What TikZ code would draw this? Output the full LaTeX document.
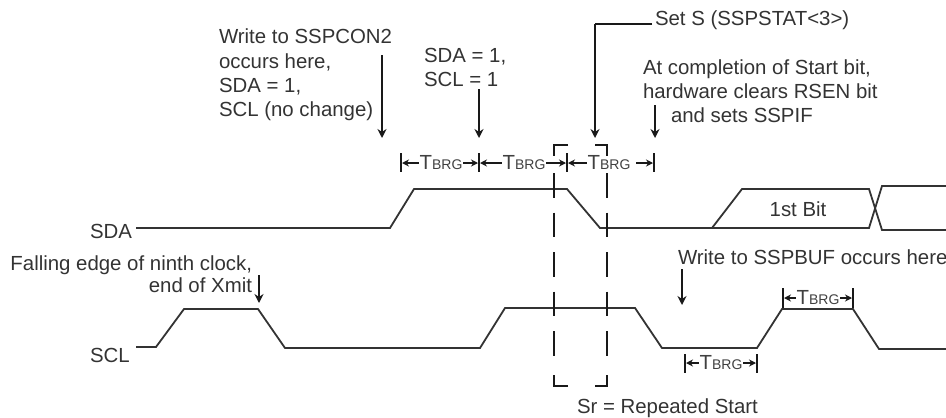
\documentclass[tikz,border=0pt]{standalone}
\usepackage{fontspec}
\setmainfont{Liberation Sans}
\usetikzlibrary{arrows.meta}
\newcommand{\tbrg}{T{\fontsize{14}{14}\selectfont BRG}}
\tikzset{
  wave/.style={line width=1.8pt,draw=black!80,line join=miter},
  lbl/.style={font=\fontsize{20.4}{24.3}\selectfont,text=black!80,inner sep=0pt,outer sep=0pt,align=left},
  callout/.style={line width=1.8pt,draw=black!90,-{Stealth[length=9pt,width=9pt]}},
  lead/.style={line width=1.8pt,draw=black!90},
  tick/.style={line width=1.7pt,draw=black!90},
  dim/.style={line width=1.5pt,draw=black!90,-{Stealth[length=7pt,width=7pt]}},
  tb/.style={font=\fontsize{20.4}{20}\selectfont,text=black!75,inner sep=1pt,outer sep=0pt,anchor=center},
  brk/.style={line width=1.8pt,draw=black!90},
  brkd/.style={line width=1.8pt,draw=black!90,dash pattern=on 24.5pt off 15pt}
}
\begin{document}
\begin{tikzpicture}[x=1pt,y=-1pt]
\useasboundingbox (0,0) rectangle (946,418);
% labels
\node[lbl,anchor=north west] (wssp) at (219,29) {Write to SSPCON2\\occurs here,\\SDA = 1,\\SCL (no change)};
\node[lbl,anchor=north west] (sda1) at (424,48) {SDA = 1,\\SCL = 1};
\node[lbl,anchor=base west] (sets) at (655,25) {Set S (SSPSTAT<3>)};
\node[lbl,anchor=base west] (ac1) at (643,74) {At completion of Start bit,};
\node[lbl,anchor=base west] (ac2) at (643,98) {hardware clears RSEN bit};
\node[lbl,anchor=base west] (ac3) at (671,122) {and sets SSPIF};
\node[lbl,anchor=base west] (sdal) at (90,238) {SDA};
\node[lbl,anchor=base west] (scll) at (90,362) {SCL};
\node[lbl,anchor=base east] (fe1) at (252,270) {Falling edge of ninth clock,};
\node[lbl,anchor=base east] (fe2) at (252,292) {end of Xmit};
\node[lbl,anchor=base] (bit) at (798,216) {1st Bit};
\node[lbl,anchor=base west] (wbuf) at (678,264) {Write to SSPBUF occurs here};
\node[lbl,anchor=base west] (sr) at (577,413) {Sr = Repeated Start};
% waveforms
\draw[wave] (136,228) -- (390,228) -- (414,189) -- (567,189) -- (600,228) -- (712,228) -- (742,189) -- (869,189) -- (882,230) -- (946,230);
\draw[wave] (712,228) -- (869,228) -- (882,186) -- (946,186);
\draw[wave] (136,347) -- (156,347) -- (184,309) -- (258,309) -- (285,348) -- (480,348) -- (505,308) -- (635,308) -- (662,348) -- (757,348) -- (782,309) -- (853,309) -- (879,349) -- (946,349);
% callouts
\coordinate (a1s) at (382,55); \coordinate (a1e) at (382,138);
\coordinate (a2s) at (479,89); \coordinate (a2e) at (479,138);
\coordinate (a3k) at (595,24); \coordinate (a3e) at (595,138);
\coordinate (a4s) at (655,105); \coordinate (a4e) at (655,138);
\coordinate (a5s) at (259,275); \coordinate (a5e) at (259,303);
\coordinate (a6s) at (682,269); \coordinate (a6e) at (682,305);
\draw[callout] (a1s) -- (a1e);
\draw[callout] (a2s) -- (a2e);
\draw[lead] (sets.west |- a3k) ++(-3,0) -- (a3k);
\draw[callout] (a3k) -- (a3e);
\draw[callout] (a4s) -- (a4e);
\draw[callout] (a5s) -- (a5e);
\draw[callout] (a6s) -- (a6e);
% upper timing
\draw[tick] (401,153) -- (401,172);
\draw[tick] (479,153) -- (479,172);
\draw[tick] (567,153) -- (567,172);
\draw[tick] (654,153) -- (654,172);
\node[tb] (t1) at (441,163) {\tbrg};
\node[tb] (t2) at (524,163) {\tbrg};
\node[tb] (t3) at (609,163) {\tbrg};
\draw[dim] (t1.west) -- (402,163);
\draw[dim] (t1.east) -- (478,163);
\draw[dim] (t2.west) -- (480,163);
\draw[dim] (t2.east) -- (566,163);
\draw[dim] (t3.west) -- (568,163);
\draw[dim] (636,163) -- (653,163);
% lower timing
\draw[tick] (685,354) -- (685,373);
\draw[tick] (757,354) -- (757,373);
\node[tb] (t4) at (721,363) {\tbrg};
\draw[dim] (t4.west) -- (686,363);
\draw[dim] (t4.east) -- (756,363);
\draw[tick] (783,288) -- (783,308);
\draw[tick] (853,288) -- (853,308);
\node[tb] (t5) at (818,298) {\tbrg};
\draw[dim] (t5.west) -- (784,298);
\draw[dim] (t5.east) -- (852,298);
% Sr bracket
\draw[brk] (568,145) -- (554,145) -- (554,156);
\draw[brk] (595,145) -- (607,145) -- (607,156);
\draw[brkd] (554,173) -- (554,358);
\draw[brkd] (607,173) -- (607,358);
\draw[brk] (568,386) -- (554,386) -- (554,375);
\draw[brk] (595,386) -- (607,386) -- (607,375);
\end{tikzpicture}
\end{document}
